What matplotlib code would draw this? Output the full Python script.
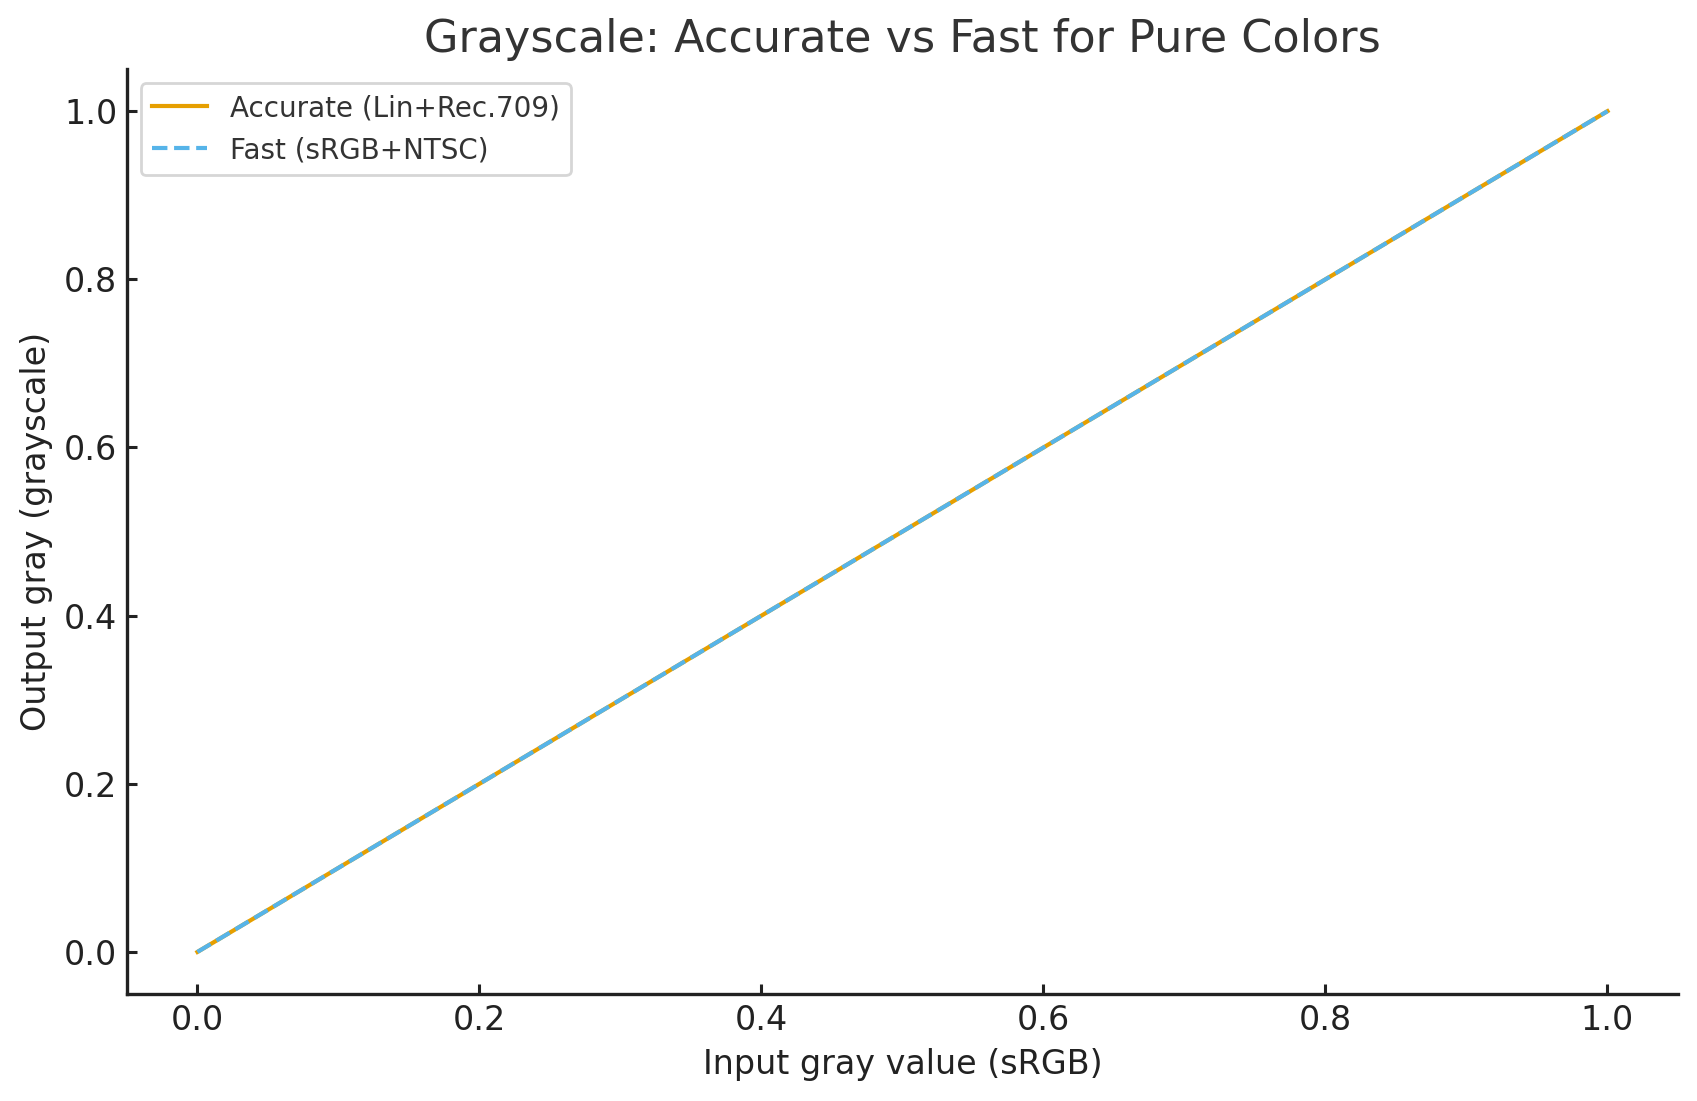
import matplotlib
matplotlib.use('Agg')
from matplotlib import pyplot as plt

# input gray levels (sRGB) and the resulting gray from each method
gray_in = [0.0, 0.1, 0.2, 0.3, 0.4, 0.5, 0.6, 0.7, 0.8, 0.9, 1.0]
accurate = [0.0, 0.1, 0.2, 0.3, 0.4, 0.5, 0.6, 0.7, 0.8, 0.9, 1.0]
fast = [0.0, 0.1, 0.2, 0.3, 0.4, 0.5, 0.6, 0.7, 0.8, 0.9, 1.0]

plt.rcParams['font.family'] = ['DejaVu Sans']

fig = plt.figure(dpi=200, figsize=(1697 / 200, 1101 / 200))
ax = fig.add_axes([0.0748, 0.0972, 0.914, 0.840])

ax.plot(gray_in, accurate, color='#E69F00', lw=1.5, label='Accurate (Lin+Rec.709)')
ax.plot(gray_in, fast, color='#56B4E9', lw=1.5, ls='--', label='Fast (sRGB+NTSC)')

ax.set_title('Grayscale: Accurate vs Fast for Pure Colors', fontsize=16, color='#333333')
ax.set_xlabel('Input gray value (sRGB)', fontsize=12, color='#222222')
ax.set_ylabel('Output gray (grayscale)', fontsize=12, color='#222222')
ax.tick_params(axis='both', direction='in', labelsize=12, colors='#222222', width=1.1)

for side in ['top', 'right']:
    ax.spines[side].set_visible(False)
for side in ['left', 'bottom']:
    ax.spines[side].set_color('#222222')
    ax.spines[side].set_linewidth(1.2)

leg = ax.legend(loc='upper left', fontsize=10)
for t in leg.get_texts():
    t.set_color('#333333')

fig.savefig('out.png', dpi=200)
